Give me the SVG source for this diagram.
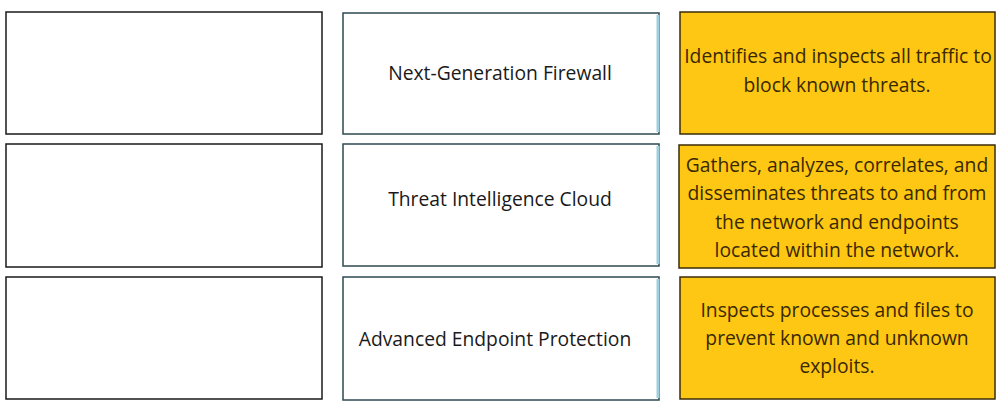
<svg xmlns="http://www.w3.org/2000/svg" width="1002" height="420" viewBox="0 0 1002 420">
<style>
.blank{fill:#ffffff;stroke:#1a1a1a;stroke-width:1.5}
.term{fill:#ffffff;stroke:#2e4a50;stroke-width:1.5}
.edge{stroke:#9fd0e0;stroke-width:3}
.desc{fill:#fdc713;stroke:#3a2c08;stroke-width:1.5}
text{font-family:"Open Sans","Noto Sans",sans-serif;font-size:19.3px;text-anchor:middle}
.t{fill:#1a1a1a}
.d{fill:#3a2800}
</style>
<rect width="1002" height="420" fill="#ffffff"/>
<g id="blank1"><rect class="blank" x="6" y="12" width="316" height="122"/></g>
<g id="blank2"><rect class="blank" x="6" y="144" width="316" height="123"/></g>
<g id="blank3"><rect class="blank" x="6" y="277" width="316" height="122"/></g>
<g id="ngfw"><rect class="term" x="343" y="13" width="316" height="121"/><line class="edge" x1="658" y1="15" x2="658" y2="132"/><text class="t" x="500" y="80">Next-Generation Firewall</text></g>
<g id="tic"><rect class="term" x="343" y="144" width="316" height="122"/><line class="edge" x1="658" y1="146" x2="658" y2="264"/><text class="t" x="500" y="206">Threat Intelligence Cloud</text></g>
<g id="aep"><rect class="term" x="343" y="277" width="316" height="123"/><line class="edge" x1="658" y1="279" x2="658" y2="398"/><text class="t" x="495" y="346">Advanced Endpoint Protection</text></g>
<g id="desc1"><rect class="desc" x="680" y="12" width="315" height="122"/><text class="d" x="838" y="63">Identifies and inspects all traffic to</text><text class="d" x="837" y="92">block known threats.</text></g>
<g id="desc2"><rect class="desc" x="679" y="145" width="316" height="123"/><text class="d" x="837" y="172">Gathers, analyzes, correlates, and</text><text class="d" x="837" y="200">disseminates threats to and from</text><text class="d" x="837" y="229">the network and endpoints</text><text class="d" x="837" y="257">located within the network.</text></g>
<g id="desc3"><rect class="desc" x="680" y="277" width="315" height="122"/><text class="d" x="837" y="317">Inspects processes and files to</text><text class="d" x="837" y="345">prevent known and unknown</text><text class="d" x="837" y="373">exploits.</text></g>
<g id="connectors"></g>
</svg>
